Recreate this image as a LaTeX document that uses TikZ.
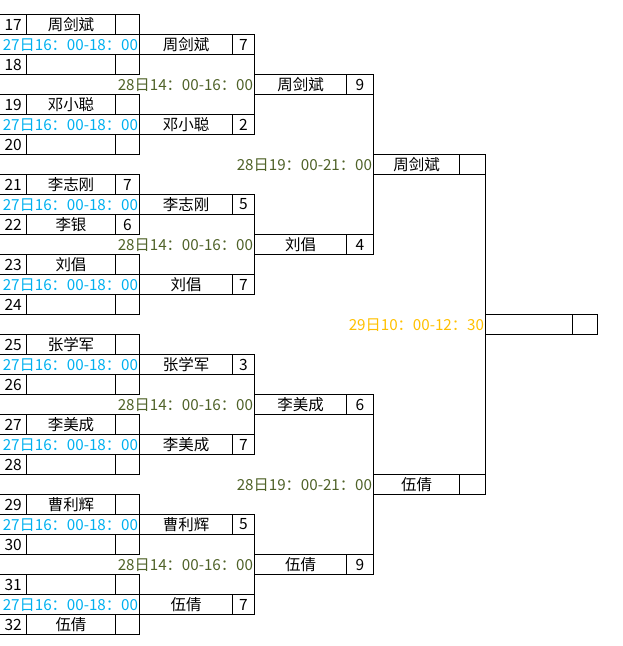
\documentclass[tikz,border=0pt]{standalone}
\usepackage{fontspec}
\setmainfont{Noto Sans CJK SC}
\definecolor{tblue}{HTML}{00B0F0}
\definecolor{tgreen}{HTML}{4F6228}
\definecolor{torange}{HTML}{FFC000}
\tikzset{
  cell/.style={draw, line width=1pt, anchor=north west, inner sep=0pt, outer sep=0pt,
    minimum height=20pt, font=\fontsize{15.5}{16}\selectfont},
  numcell/.style={anchor=north west, inner sep=0pt, outer sep=0pt, minimum height=20pt,
    minimum width=26.5pt, font=\fontsize{15.5}{16}\selectfont},
  timetxt/.style={anchor=east, inner sep=0pt, outer sep=0pt, font=\fontsize{15.2}{16}\selectfont},
  rule/.style={line width=1pt},
}
\newcommand\plrow[5]{%
  \node[numcell] (#1n) at (0,{14.5+20*#2}) {#3};
  \node[cell, minimum width=89pt] (#1p) at (26.5,{14.5+20*#2}) {#4};
  \node[cell, minimum width=24pt] (#1s) at (#1p.north east) {#5};
  \draw[rule] (#1n.north west) -- (#1n.north east) (#1n.south west) -- (#1n.south east);
}
\newcommand\mrow[7]{%
  \node[cell, minimum width=#4pt] (#1p) at (#3,{14.5+20*#2}) {#6};
  \node[cell, minimum width=#5pt] (#1s) at (#1p.north east) {#7};
}
\newcommand\ttext[5]{%
  \node[timetxt, text=#4] (#1) at ({#3-1.5},{25+20*#2}) {#5};
}
\begin{document}
\begin{tikzpicture}[x=1pt,y=-1pt]
\useasboundingbox (0,0) rectangle (623,646);
% first round players
\plrow{a17}{0}{17}{周剑斌}{}
\plrow{a18}{2}{18}{}{}
\plrow{a19}{4}{19}{邓小聪}{}
\plrow{a20}{6}{20}{}{}
\plrow{a21}{8}{21}{李志刚}{7}
\plrow{a22}{10}{22}{李银}{6}
\plrow{a23}{12}{23}{刘倡}{}
\plrow{a24}{14}{24}{}{}
\plrow{a25}{16}{25}{张学军}{}
\plrow{a26}{18}{26}{}{}
\plrow{a27}{20}{27}{李美成}{}
\plrow{a28}{22}{28}{}{}
\plrow{a29}{24}{29}{曹利辉}{}
\plrow{a30}{26}{30}{}{}
\plrow{a31}{28}{31}{}{}
\plrow{a32}{30}{32}{伍倩}{}
% first round times
\ttext{t1}{1}{139.5}{tblue}{27日16：00-18：00}
\ttext{t5}{5}{139.5}{tblue}{27日16：00-18：00}
\ttext{t9}{9}{139.5}{tblue}{27日16：00-18：00}
\ttext{t13}{13}{139.5}{tblue}{27日16：00-18：00}
\ttext{t17}{17}{139.5}{tblue}{27日16：00-18：00}
\ttext{t21}{21}{139.5}{tblue}{27日16：00-18：00}
\ttext{t25}{25}{139.5}{tblue}{27日16：00-18：00}
\ttext{t29}{29}{139.5}{tblue}{27日16：00-18：00}
% second round boxes
\mrow{b1}{1}{139.5}{93}{22}{周剑斌}{7}
\mrow{b5}{5}{139.5}{93}{22}{邓小聪}{2}
\mrow{b9}{9}{139.5}{93}{22}{李志刚}{5}
\mrow{b13}{13}{139.5}{93}{22}{刘倡}{7}
\mrow{b17}{17}{139.5}{93}{22}{张学军}{3}
\mrow{b21}{21}{139.5}{93}{22}{李美成}{7}
\mrow{b25}{25}{139.5}{93}{22}{曹利辉}{5}
\mrow{b29}{29}{139.5}{93}{22}{伍倩}{7}
% second round times
\ttext{u3}{3}{254.5}{tgreen}{28日14：00-16：00}
\ttext{u11}{11}{254.5}{tgreen}{28日14：00-16：00}
\ttext{u19}{19}{254.5}{tgreen}{28日14：00-16：00}
\ttext{u27}{27}{254.5}{tgreen}{28日14：00-16：00}
% third round boxes
\mrow{c3}{3}{254.5}{92}{27}{周剑斌}{9}
\mrow{c11}{11}{254.5}{92}{27}{刘倡}{4}
\mrow{c19}{19}{254.5}{92}{27}{李美成}{6}
\mrow{c27}{27}{254.5}{92}{27}{伍倩}{9}
% third round times
\ttext{v7}{7}{373.5}{tgreen}{28日19：00-21：00}
\ttext{v23}{23}{373.5}{tgreen}{28日19：00-21：00}
% fourth round boxes
\mrow{d7}{7}{373.5}{86}{26}{周剑斌}{}
\mrow{d23}{23}{373.5}{86}{26}{伍倩}{}
% final
\ttext{w15}{15}{485.5}{torange}{29日10：00-12：30}
\mrow{e15}{15}{485.5}{87}{24.5}{}{}
% connectors
\draw[rule] (b1s.south east) -- (b5s.north east);
\draw[rule] (b9s.south east) -- (b13s.north east);
\draw[rule] (b17s.south east) -- (b21s.north east);
\draw[rule] (b25s.south east) -- (b29s.north east);
\draw[rule] (c3s.south east) -- (c11s.north east);
\draw[rule] (c19s.south east) -- (c27s.north east);
\draw[rule] (d7s.south east) -- (d23s.north east);
\end{tikzpicture}
\end{document}
